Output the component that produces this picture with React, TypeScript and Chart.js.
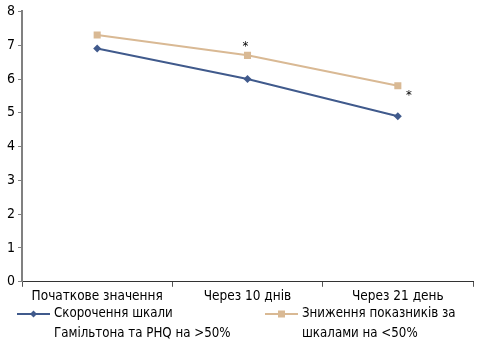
import React, { useEffect, useRef } from "react";
import { Chart, registerables } from "chart.js";

Chart.register(...registerables);

const categories = ["Початкове значення", "Через 10 днів", "Через 21 день"];
const seriesAbove = [6.9, 6.0, 4.9];
const seriesBelow = [7.3, 6.7, 5.8];
const labelAbove = ["Скорочення шкали", "Гамільтона та PHQ на >50%"];
const labelBelow = ["Зниження показників за", "шкалами на <50%"];
const starIndices = [1, 2];
const yTicks = [0, 1, 2, 3, 4, 5, 6, 7, 8];

const BLUE = "#405a8c";
const TAN = "#d9b994";
const FONT = "'DejaVu Sans Condensed', 'Liberation Sans', sans-serif";

export default function App() {
  const ref = useRef<HTMLCanvasElement>(null);
  useEffect(() => {
    const canvas = ref.current!;
    const starPlugin = {
      id: "stars",
      afterDatasetsDraw(chart: any) {
        const ctx = chart.ctx;
        const meta = chart.getDatasetMeta(1);
        ctx.save();
        ctx.fillStyle = "#000";
        ctx.font = `13px ${FONT}`;
        ctx.textAlign = "center";
        ctx.textBaseline = "middle";
        starIndices.forEach((i, k) => {
          const p = meta.data[i];
          if (k === 0) ctx.fillText("*", p.x - 2, p.y - 9);
          else ctx.fillText("*", p.x + 11, p.y + 10);
        });
        ctx.restore();
      },
    };
    const legendPlugin = {
      id: "customLegend",
      afterDraw(chart: any) {
        const ctx = chart.ctx;
        ctx.save();
        ctx.font = `13.2px ${FONT}`;
        ctx.textBaseline = "middle";
        ctx.fillStyle = "#000";
        const items = [
          { x: 17, color: BLUE, style: "rectRot", r: 3.5, lines: labelAbove },
          { x: 265, color: TAN, style: "rect", r: 3.5, lines: labelBelow },
        ];
        const y0 = 314;
        items.forEach((it) => {
          ctx.strokeStyle = it.color;
          ctx.lineWidth = 2;
          ctx.beginPath();
          ctx.moveTo(it.x, y0);
          ctx.lineTo(it.x + 33, y0);
          ctx.stroke();
          ctx.fillStyle = it.color;
          const cx = it.x + 16.5;
          if (it.style === "rect") {
            ctx.fillRect(cx - it.r, y0 - it.r, it.r * 2, it.r * 2);
          } else {
            ctx.beginPath();
            ctx.moveTo(cx, y0 - it.r);
            ctx.lineTo(cx + it.r, y0);
            ctx.lineTo(cx, y0 + it.r);
            ctx.lineTo(cx - it.r, y0);
            ctx.closePath();
            ctx.fill();
          }
          ctx.fillStyle = "#000";
          it.lines.forEach((t, j) => ctx.fillText(t, it.x + 37, y0 + j * 20));
        });
        ctx.restore();
      },
    };
    const chart = new Chart(canvas, {
      type: "line",
      data: {
        labels: categories,
        datasets: [
          {
            label: labelAbove.join(" "),
            data: seriesAbove,
            borderColor: BLUE,
            backgroundColor: BLUE,
            borderWidth: 2,
            pointStyle: "rectRot",
            pointRadius: 4,
            pointBorderWidth: 0,
          },
          {
            label: labelBelow.join(" "),
            data: seriesBelow,
            borderColor: TAN,
            backgroundColor: TAN,
            borderWidth: 2,
            pointStyle: "rect",
            pointRadius: 5,
            pointBorderWidth: 0,
          },
        ],
      },
      options: {
        animation: false,
        responsive: false,
        layout: { padding: { left: 4, right: 4, top: 6, bottom: 47 } },
        plugins: { legend: { display: false }, tooltip: { enabled: false } },
        scales: {
          x: {
            offset: true,
            grid: { display: true, drawOnChartArea: false, tickLength: 5, color: "#555", offset: true },
            border: { color: "#333", width: 1 },
            ticks: { color: "#000", font: { family: FONT, size: 13.5 }, padding: 2, maxRotation: 0 },
          },
          y: {
            min: 0,
            max: 8,
            afterBuildTicks: (axis: any) => {
              axis.ticks = yTicks.map((v) => ({ value: v }));
            },
            grid: { display: true, drawOnChartArea: false, tickLength: 4, color: "#808080" },
            border: { color: "#808080", width: 2 },
            ticks: { color: "#000", font: { family: FONT, size: 14 }, padding: 3 },
          },
        },
      },
      plugins: [starPlugin, legendPlugin],
    });
    return () => chart.destroy();
  }, []);
  return (
    <div style={{ position: "fixed", left: 0, top: 0, width: 478, height: 354, background: "#fff" }}>
      <canvas ref={ref} width={478} height={354} />
    </div>
  );
}
